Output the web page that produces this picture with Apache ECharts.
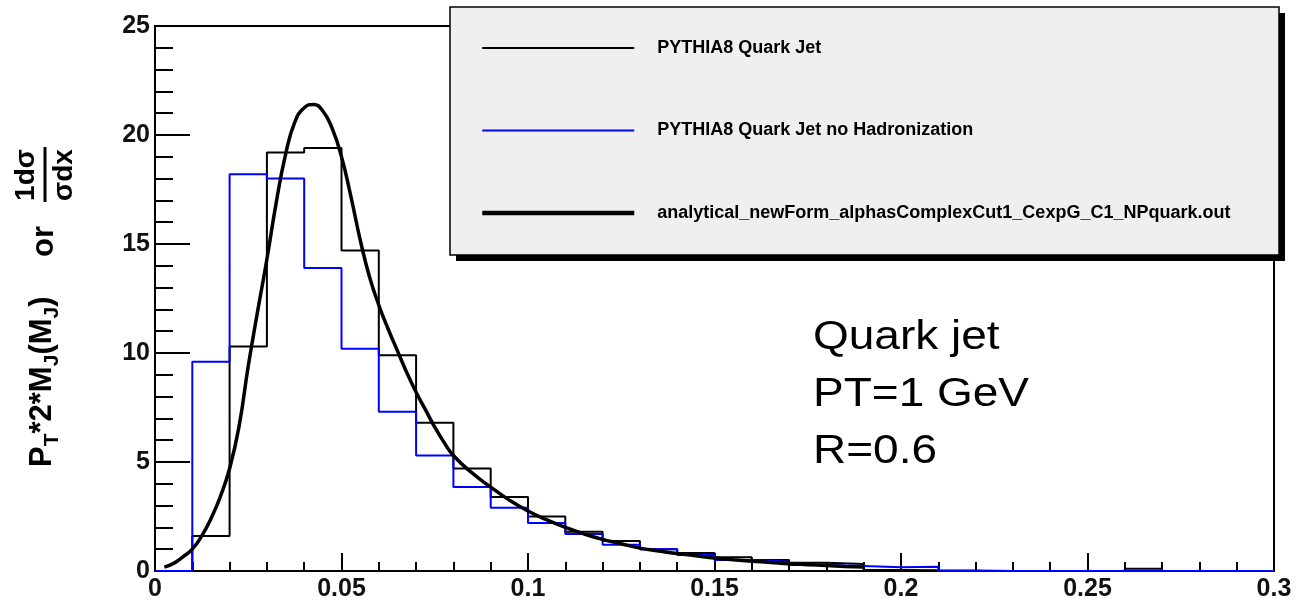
<!DOCTYPE html>
<html><head><meta charset="utf-8">
<script src="https://cdn.jsdelivr.net/npm/echarts@6/dist/echarts.min.js"></script>
<style>html,body{margin:0;padding:0;background:#fff}#c{width:1301px;height:602px}</style>
</head><body><div id="c"></div>
<script>
// ---- data ----
const binLowEdges = [0.00,0.01,0.02,0.03,0.04,0.05,0.06,0.07,0.08,0.09,
                     0.10,0.11,0.12,0.13,0.14,0.15,0.16,0.17,0.18,0.19,
                     0.20,0.21,0.22,0.23,0.24,0.25,0.26,0.27,0.28,0.29];
const xUpperEdge = 0.30;
const pythiaQuarkJet = [0, 1.6, 10.3, 19.2, 19.4, 14.7, 9.9, 6.8, 4.7, 3.4,
                        2.5, 1.8, 1.38, 1.0, 0.83, 0.63, 0.5, 0.38, 0.32, 0.05,
                        0.03, 0.02, 0, 0, 0, 0, 0.1, 0, 0, 0];
const pythiaNoHadron = [0, 9.6, 18.2, 18.0, 13.9, 10.2, 7.3, 5.3, 3.85, 2.9,
                        2.2, 1.7, 1.2, 1.0, 0.73, 0.5, 0.43, 0.28, 0.23, 0.17,
                        0.2, 0, 0, 0, 0, 0, 0, 0, 0, 0];
const analyticalX = [0.0025,0.005,0.0075,0.010,0.0125,0.015,0.0175,0.020,0.0225,0.025,
                     0.0275,0.030,0.0325,0.035,0.0375,0.040,0.0425,0.045,0.0475,0.050,
                     0.0525,0.055,0.0575,0.060,0.0625,0.065,0.0675,0.070,0.0725,0.075,
                     0.0775,0.080,0.085,0.090,0.095,0.100,0.105,0.110,0.115,0.120,
                     0.125,0.130,0.135,0.140,0.145,0.150,0.155,0.160,0.165,0.170,
                     0.175,0.180,0.185,0.190];
const analyticalY = [0.18,0.35,0.65,1.0,1.6,2.4,3.4,4.7,6.6,9.4,
                     11.9,14.3,16.9,19.1,20.6,21.25,21.4,21.1,20.3,19.0,
                     17.2,15.2,13.5,12.2,11.1,10.1,9.1,8.2,7.4,6.6,
                     5.9,5.3,4.5,3.85,3.25,2.75,2.35,2.0,1.7,1.45,
                     1.25,1.05,0.92,0.8,0.7,0.6,0.52,0.45,0.39,0.33,
                     0.29,0.25,0.21,0.18];
const seriesNames = ['PYTHIA8 Quark Jet',
                     'PYTHIA8 Quark Jet no Hadronization',
                     'analytical_newForm_alphasComplexCut1_CexpG_C1_NPquark.out'];
const annotationLines = ['Quark jet', 'PT=1 GeV', 'R=0.6'];

// ---- build ----
function stepData(vals){
  const d = binLowEdges.map((x,i)=>[x, vals[i]]);
  d.push([xUpperEdge, vals[vals.length-1]]);
  return d;
}
const FONT = '"Liberation Sans", Arial, sans-serif';
const mctx = document.createElement('canvas').getContext('2d');
function tw(t, size){ mctx.font = 'bold ' + size + 'px ' + FONT; return mctx.measureText(t).width; }

// y-axis title pieces (rotated)
const mainPieces = [['P',31,0],['T',21,1],['*2*M',31,0],['J',21,1],['(M',31,0],['J',21,1],[')',31,0]];
const yTitleChildren = [];
let lx = 0;
mainPieces.forEach(p => {
  yTitleChildren.push({type:'text', x: lx, y: p[2] ? 10 : 0,
    style:{text:p[0], font:'bold '+p[1]+'px '+FONT, fill:'#000', align:'left', verticalAlign:'middle'}});
  lx += tw(p[0], p[1]);
});
yTitleChildren.push({type:'text', x: 210, y: 2,
  style:{text:'or', font:'bold 31px '+FONT, fill:'#000', align:'left', verticalAlign:'middle'}});
yTitleChildren.push({type:'text', x: 292, y: -16,
  style:{text:'1dσ', font:'bold 28px '+FONT, fill:'#000', align:'center', verticalAlign:'middle'}});
yTitleChildren.push({type:'text', x: 292, y: 22,
  style:{text:'σdx', font:'bold 28px '+FONT, fill:'#000', align:'center', verticalAlign:'middle'}});
yTitleChildren.push({type:'line', shape:{x1:265, y1:3, x2:320, y2:3}, style:{stroke:'#000', lineWidth:3}});

const chart = echarts.init(document.getElementById('c'), null, {renderer:'canvas'});
const labelStyle = {fontFamily: FONT, fontWeight:'bold', fontSize:25, color:'#111'};
chart.setOption({
  animation:false,
  backgroundColor:'#fff',
  grid:{left:155, right:27, top:26, bottom:31, show:true, borderColor:'#000', borderWidth:2, backgroundColor:'transparent'},
  xAxis:{type:'value', min:0, max:0.3, interval:0.05,
    axisLine:{show:true, onZero:false, lineStyle:{color:'#000', width:2}},
    axisTick:{show:true, inside:true, length:18, lineStyle:{color:'#000', width:2}},
    minorTick:{show:true, splitNumber:5, length:9, lineStyle:{color:'#000', width:2}},
    splitLine:{show:false}, minorSplitLine:{show:false},
    axisLabel:Object.assign({margin:6, showMinLabel:true, showMaxLabel:true}, labelStyle)},
  yAxis:{type:'value', min:0, max:25, interval:5,
    axisLine:{show:true, lineStyle:{color:'#000', width:2}},
    axisTick:{show:true, inside:true, length:35, lineStyle:{color:'#000', width:2}},
    minorTick:{show:true, splitNumber:5, length:18, lineStyle:{color:'#000', width:2}},
    splitLine:{show:false}, minorSplitLine:{show:false},
    axisLabel:Object.assign({margin:5, showMinLabel:true, showMaxLabel:true}, labelStyle)},
  legend:{orient:'vertical', left:450, top:7, padding:[31,0,0,30], itemWidth:152, itemHeight:20, itemGap:62.5,
    z:200, backgroundColor:'transparent',
    itemStyle:{opacity:0},
    textStyle:{fontFamily:FONT, fontWeight:'bold', fontSize:18, color:'#000', padding:[0,0,0,18], lineHeight:20},
    data:[
      {name:seriesNames[0], itemStyle:{opacity:0}, lineStyle:{color:'#000', width:2}},
      {name:seriesNames[1], itemStyle:{opacity:0}, lineStyle:{color:'#0000ff', width:2}},
      {name:seriesNames[2], itemStyle:{opacity:0}, lineStyle:{color:'#000', width:4.5}}
    ]},
  graphic:[
    {type:'rect', z:100, shape:{x:456, y:13, width:829, height:248}, style:{fill:'#000'}},
    {type:'rect', z:101, shape:{x:450, y:7, width:829, height:248}, style:{fill:'#efefef', stroke:'#000', lineWidth:1.5}},
    {type:'text', z:100, x:813, y:337.5, scaleX:1.15, style:{text:annotationLines[0], font:'40px '+FONT, fill:'#000', align:'left', verticalAlign:'middle'}},
    {type:'text', z:100, x:813, y:395, scaleX:1.15, style:{text:annotationLines[1], font:'40px '+FONT, fill:'#000', align:'left', verticalAlign:'middle'}},
    {type:'text', z:100, x:813, y:452, scaleX:1.15, style:{text:annotationLines[2], font:'40px '+FONT, fill:'#000', align:'left', verticalAlign:'middle'}},
    {type:'group', x:42, y:467, rotation:Math.PI/2, z:100, children:yTitleChildren}
  ],
  series:[
    {name:seriesNames[0], type:'line', step:'end', data:stepData(pythiaQuarkJet), showSymbol:false, symbol:'none',
      lineStyle:{color:'#000', width:2}, itemStyle:{color:'#000'}, z:3},
    {name:seriesNames[1], type:'line', step:'end', data:stepData(pythiaNoHadron), showSymbol:false, symbol:'none',
      lineStyle:{color:'#0000ff', width:2}, itemStyle:{color:'#0000ff'}, z:4},
    {name:seriesNames[2], type:'line', smooth:true, data:analyticalX.map((x,i)=>[x, analyticalY[i]]),
      showSymbol:false, symbol:'none', lineStyle:{color:'#000', width:3.5}, itemStyle:{color:'#000'}, z:5}
  ]
});
</script></body></html>
